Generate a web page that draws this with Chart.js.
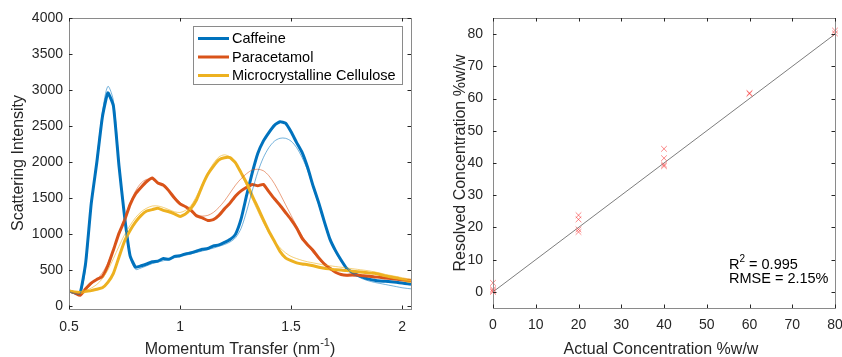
<!DOCTYPE html>
<html>
<head>
<meta charset="utf-8">
<script src="https://cdn.jsdelivr.net/npm/chart.js@4.4.0/dist/chart.umd.min.js"></script>
<style>
  body { margin: 0; background: #fff; }
  #wrap { position: relative; width: 842px; height: 357px; }
  #spectra { position: absolute; left: 0; top: 0; }
  #concentration { position: absolute; left: 430px; top: 0; }
</style>
</head>
<body>
<div id="wrap">
  <canvas id="spectra" width="420" height="357"></canvas>
  <canvas id="concentration" width="412" height="357"></canvas>
</div>
<script>
// Momentum transfer grid (nm^-1)
const momentum = [0.5, 0.525, 0.55, 0.575, 0.6, 0.625, 0.65, 0.675, 0.7, 0.725, 0.75, 0.775, 0.8, 0.825, 0.85, 0.875, 0.9, 0.925, 0.95, 0.975,
  1.0, 1.025, 1.05, 1.075, 1.1, 1.125, 1.15, 1.175, 1.2, 1.225, 1.25, 1.275, 1.3, 1.325, 1.35, 1.375, 1.4, 1.425, 1.45, 1.475,
  1.5, 1.525, 1.55, 1.575, 1.6, 1.625, 1.65, 1.675, 1.7, 1.725, 1.75, 1.775, 1.8, 1.825, 1.85, 1.875, 1.9, 1.925, 1.95, 1.975,
  2.0, 2.025, 2.04];

// Measured scattering intensity (thick lines)
const caffeine = [210, 185, 180, 600, 1420, 1990, 2620, 2960, 2780, 1950, 1250, 700, 540, 560, 585, 615, 625, 660, 650, 690,
  700, 725, 740, 765, 790, 800, 835, 850, 885, 925, 1000, 1210, 1540, 1850, 2120, 2290, 2410, 2510, 2560, 2540,
  2420, 2270, 2130, 1920, 1660, 1430, 1170, 930, 770, 640, 525, 470, 430, 400, 375, 360, 350, 345, 338, 330,
  320, 310, 305];
const paracetamol = [210, 185, 150, 240, 320, 370, 410, 560, 780, 1010, 1190, 1410, 1560, 1650, 1730, 1780, 1710, 1680, 1600, 1500,
  1420, 1380, 1330, 1250, 1225, 1190, 1200, 1260, 1350, 1430, 1530, 1600, 1650, 1690, 1670, 1690, 1590, 1490, 1400, 1300,
  1200, 1085, 940, 850, 770, 670, 585, 525, 470, 440, 430, 435, 430, 420, 415, 405, 400, 390, 385, 375,
  365, 360, 355];
const cellulose = [210, 195, 190, 205, 215, 235, 255, 330, 455, 680, 900, 1050, 1170, 1260, 1320, 1340, 1360, 1330, 1310, 1280,
  1245, 1280, 1360, 1480, 1670, 1830, 1940, 2030, 2060, 2060, 1990, 1850, 1710, 1530, 1370, 1200, 1040, 900, 760, 670,
  630, 600, 585, 575, 560, 540, 525, 515, 505, 500, 495, 485, 478, 470, 460, 455, 440, 420, 405, 390,
  370, 350, 345];

// Fitted reference spectra (thin lines)
const caffeineFit = [200, 175, 170, 540, 1400, 2030, 2680, 3050, 2850, 2000, 1250, 680, 510, 530, 560, 590, 610, 630, 650, 670,
  690, 705, 725, 745, 765, 785, 805, 830, 855, 890, 950, 1080, 1320, 1600, 1860, 2060, 2200, 2290, 2330, 2330,
  2290, 2200, 2060, 1880, 1640, 1400, 1150, 920, 750, 620, 520, 455, 410, 375, 350, 330, 315, 300, 285, 270,
  255, 245, 240];
const paracetamolFit = [200, 180, 175, 230, 300, 370, 460, 600, 790, 1000, 1220, 1430, 1600, 1710, 1760, 1760, 1720, 1660, 1590, 1510,
  1440, 1370, 1310, 1270, 1250, 1260, 1300, 1370, 1460, 1570, 1680, 1770, 1840, 1890, 1900, 1880, 1810, 1700, 1560, 1410,
  1260, 1110, 970, 850, 740, 650, 570, 510, 465, 435, 420, 415, 415, 415, 410, 405, 395, 385, 375, 365,
  355, 345, 340];
const celluloseFit = [200, 190, 195, 215, 250, 300, 380, 500, 660, 830, 990, 1120, 1230, 1310, 1360, 1390, 1390, 1370, 1340, 1310,
  1300, 1330, 1400, 1530, 1690, 1850, 1980, 2070, 2100, 2070, 1980, 1840, 1670, 1490, 1320, 1160, 1020, 900, 810, 740,
  690, 660, 635, 615, 600, 585, 570, 560, 550, 540, 530, 520, 510, 500, 490, 475, 460, 440, 425, 410,
  395, 380, 375];

const legendNames = ["Caffeine", "Paracetamol", "Microcrystalline Cellulose"];
const legendColors = ["#0072BD", "#D95319", "#EDB120"];
const spectraXTicks = [0.5, 1, 1.5, 2];
const spectraYTicks = [0, 500, 1000, 1500, 2000, 2500, 3000, 3500, 4000];

// Concentration results (%w/w)
const actualConc = [0, 0, 0, 0, 20, 20, 20, 20, 40, 40, 40, 40, 60, 60, 80, 80];
const resolvedConc = [2.8, 0.8, 0.4, 0.0, 23.8, 22.5, 19.4, 18.6, 44.4, 41.5, 39.5, 39.0, 61.7, 61.5, 81.1, 80.2];
const idealX = [0, 80];
const idealY = [0, 80];
const concXTicks = [0, 10, 20, 30, 40, 50, 60, 70, 80];
const concYTicks = [0, 10, 20, 30, 40, 50, 60, 70, 80];
const statLines = ["R2 = 0.995", "RMSE = 2.15%"];

const FONT = "'Liberation Sans', Arial, Helvetica, sans-serif";
Chart.defaults.font.family = FONT;
Chart.defaults.font.size = 14;
Chart.defaults.color = "#262626";

function toPoints(xs, ys) {
  return xs.map((x, i) => ({ x: x, y: ys[i] }));
}

function fixedTicks(values) {
  return function (scale) {
    scale.ticks = values.map(v => ({ value: v }));
  };
}

// Box around the plot with inward ticks on all four sides, MATLAB style
const boxAxes = {
  id: "boxAxes",
  afterDatasetsDraw(chart) {
    const ctx = chart.ctx;
    const a = chart.chartArea;
    const sx = chart.scales.x;
    const sy = chart.scales.y;
    const len = 3.5;
    ctx.save();
    ctx.strokeStyle = "#8a8a8a";
    ctx.lineWidth = 1;
    ctx.strokeRect(Math.round(a.left) + 0.5, Math.round(a.top) + 0.5,
      Math.round(a.right - a.left), Math.round(a.bottom - a.top));
    ctx.strokeStyle = "#262626";
    ctx.beginPath();
    sx.ticks.forEach(function (t) {
      const px = Math.round(sx.getPixelForValue(t.value)) + 0.5;
      ctx.moveTo(px, a.bottom); ctx.lineTo(px, a.bottom - len);
      ctx.moveTo(px, a.top); ctx.lineTo(px, a.top + len);
    });
    sy.ticks.forEach(function (t) {
      const py = Math.round(sy.getPixelForValue(t.value)) + 0.5;
      ctx.moveTo(a.left, py); ctx.lineTo(a.left + len, py);
      ctx.moveTo(a.right, py); ctx.lineTo(a.right - len, py);
    });
    ctx.stroke();
    ctx.restore();
  }
};

// Axis titles, with optional superscript part
function drawTitles(chart, o) {
  const ctx = chart.ctx;
  ctx.save();
  ctx.fillStyle = "#262626";
  ctx.textBaseline = "alphabetic";
  const main = o.xTitle;
  const sup = o.xSup || "";
  const tail = o.xTail || "";
  ctx.font = "16px " + FONT;
  const w1 = ctx.measureText(main).width;
  const w3 = ctx.measureText(tail).width;
  ctx.font = "11px " + FONT;
  const w2 = ctx.measureText(sup).width;
  let x0 = o.xTitleX - (w1 + w2 + w3) / 2;
  ctx.font = "16px " + FONT;
  ctx.textAlign = "left";
  ctx.fillText(main, x0, o.xTitleY);
  if (sup) {
    ctx.font = "11px " + FONT;
    ctx.fillText(sup, x0 + w1, o.xTitleY - 8);
    ctx.font = "16px " + FONT;
    ctx.fillText(tail, x0 + w1 + w2, o.xTitleY);
  }
  // y title
  ctx.translate(o.yTitleX, o.yTitleY);
  ctx.rotate(-Math.PI / 2);
  ctx.textAlign = "center";
  ctx.textBaseline = "middle";
  ctx.fillText(o.yTitle, 0, 0);
  ctx.restore();
}

const spectraExtras = {
  id: "spectraExtras",
  afterDraw(chart) {
    drawTitles(chart, {
      xTitle: "Momentum Transfer (nm", xSup: "-1", xTail: ")",
      xTitleX: 240, xTitleY: 354,
      yTitle: "Scattering Intensity", yTitleX: 19, yTitleY: 163
    });
    // legend box
    const ctx = chart.ctx;
    ctx.save();
    ctx.fillStyle = "#fff";
    ctx.fillRect(193.5, 26.5, 209, 58);
    ctx.strokeStyle = "#8a8a8a";
    ctx.lineWidth = 1;
    ctx.strokeRect(193.5, 26.5, 209, 58);
    ctx.font = "14.5px " + FONT;
    ctx.textBaseline = "middle";
    ctx.fillStyle = "#000";
    const rows = [38.5, 57, 75.5];
    legendNames.forEach(function (name, i) {
      ctx.strokeStyle = legendColors[i];
      ctx.lineWidth = 3;
      ctx.beginPath();
      ctx.moveTo(198, rows[i]);
      ctx.lineTo(229, rows[i]);
      ctx.stroke();
      ctx.fillText(name, 232, rows[i] + 0.5);
    });
    ctx.restore();
  }
};

const concExtras = {
  id: "concExtras",
  afterDraw(chart) {
    drawTitles(chart, {
      xTitle: "Actual Concentration %w/w", xTitleX: 231, xTitleY: 354,
      yTitle: "Resolved Concentration %w/w", yTitleX: 31, yTitleY: 163
    });
    const ctx = chart.ctx;
    const x0 = chart.scales.x.getPixelForValue(55.2);
    const y0 = chart.scales.y.getPixelForValue(7.1);
    ctx.save();
    ctx.fillStyle = "#000";
    ctx.textBaseline = "alphabetic";
    ctx.textAlign = "left";
    ctx.font = "14.5px " + FONT;
    ctx.fillText("R", x0, y0);
    const wr = ctx.measureText("R").width;
    ctx.font = "10px " + FONT;
    ctx.fillText("2", x0 + wr, y0 - 7);
    const w2 = ctx.measureText("2").width;
    ctx.font = "14.5px " + FONT;
    ctx.fillText(statLines[0].slice(2), x0 + wr + w2, y0);
    ctx.fillText(statLines[1], x0, y0 + 13.5);
    ctx.restore();
  }
};

const fitLine = { borderWidth: 1, pointRadius: 0, tension: 0.3, fill: false };
const dataLine = { borderWidth: 3, pointRadius: 0, tension: 0.15, fill: false };

new Chart(document.getElementById("spectra"), {
  type: "line",
  data: {
    datasets: [
      Object.assign({ data: toPoints(momentum, caffeineFit), borderColor: "rgba(0,114,189,0.55)" }, fitLine),
      Object.assign({ data: toPoints(momentum, paracetamolFit), borderColor: "rgba(217,83,25,0.55)" }, fitLine),
      Object.assign({ data: toPoints(momentum, celluloseFit), borderColor: "rgba(237,177,32,0.6)" }, fitLine),
      Object.assign({ label: legendNames[2], data: toPoints(momentum, cellulose), borderColor: legendColors[2] }, dataLine),
      Object.assign({ label: legendNames[1], data: toPoints(momentum, paracetamol), borderColor: legendColors[1] }, dataLine),
      Object.assign({ label: legendNames[0], data: toPoints(momentum, caffeine), borderColor: legendColors[0] }, dataLine)
    ]
  },
  options: {
    responsive: false,
    animation: false,
    devicePixelRatio: 1,
    layout: { padding: { top: 18, right: 9, left: 0, bottom: 0 } },
    plugins: { legend: { display: false }, tooltip: { enabled: false } },
    scales: {
      x: {
        type: "linear", min: 0.5, max: 2.04,
        grid: { display: false, drawTicks: false },
        border: { display: false },
        afterBuildTicks: fixedTicks(spectraXTicks),
        ticks: { padding: 10, maxRotation: 0, callback: v => String(v) },
        afterFit: s => { s.height = 48; s.paddingLeft = 0; s.paddingRight = 0; }
      },
      y: {
        min: -40, max: 4000,
        grid: { display: false, drawTicks: false },
        border: { display: false },
        afterBuildTicks: fixedTicks(spectraYTicks),
        ticks: { padding: 6, callback: v => String(v) },
        afterFit: s => { s.width = 69; s.paddingTop = 0; s.paddingBottom = 0; }
      }
    }
  },
  plugins: [boxAxes, spectraExtras]
});

new Chart(document.getElementById("concentration"), {
  type: "scatter",
  data: {
    datasets: [
      {
        data: toPoints(actualConc, resolvedConc),
        pointStyle: "crossRot", pointRadius: 4, borderWidth: 1, clip: false,
        borderColor: "rgba(245,40,40,0.55)", backgroundColor: "rgba(245,40,40,0.55)"
      },
      {
        data: toPoints(idealX, idealY), showLine: true, pointRadius: 0,
        borderColor: "rgba(50,50,50,0.8)", borderWidth: 0.8
      }
    ]
  },
  options: {
    responsive: false,
    animation: false,
    devicePixelRatio: 1,
    layout: { padding: { top: 18, right: 7, left: 0, bottom: 0 } },
    plugins: { legend: { display: false }, tooltip: { enabled: false } },
    scales: {
      x: {
        type: "linear", min: 0, max: 80,
        grid: { display: false, drawTicks: false },
        border: { display: false },
        afterBuildTicks: fixedTicks(concXTicks),
        ticks: { padding: 9, maxRotation: 0, callback: v => String(v) },
        afterFit: s => { s.height = 49; s.paddingLeft = 0; s.paddingRight = 0; }
      },
      y: {
        min: -5, max: 85,
        grid: { display: false, drawTicks: false },
        border: { display: false },
        afterBuildTicks: fixedTicks(concYTicks),
        ticks: { padding: 10, callback: v => String(v) },
        afterFit: s => { s.width = 63; s.paddingTop = 0; s.paddingBottom = 0; }
      }
    }
  },
  plugins: [boxAxes, concExtras]
});
</script>
</body>
</html>
